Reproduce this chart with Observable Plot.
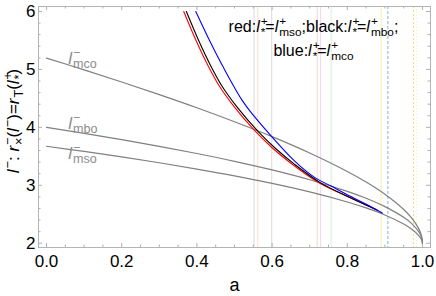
<!DOCTYPE html>
<html><head><meta charset="utf-8">
<script src="https://cdn.jsdelivr.net/npm/d3@7"></script>
<script src="https://cdn.jsdelivr.net/npm/@observablehq/plot@0.6"></script>
<style>body{margin:0;background:#fff;font-family:"Liberation Sans",Arial,sans-serif}</style>
</head><body><div id="chart"></div>
<script>
// gray reference curves l_mco, l_mbo, l_mso versus spin a
const aGrid = [0,0.1,0.2,0.3,0.4,0.5,0.6,0.7,0.8,0.85,0.9,0.95,0.97,0.99,0.995,0.999,1];
const lMco = [5.196,4.993,4.783,4.565,4.338,4.096,3.839,3.556,3.237,3.055,2.845,2.583,2.444,2.252,2.176,2.077,2.0];
const lMbo = [4.0,3.897,3.789,3.673,3.549,3.414,3.265,3.095,2.894,2.775,2.632,2.447,2.346,2.2,2.141,2.063,2.0];
const lMso = [3.674,3.584,3.490,3.389,3.280,3.163,3.033,2.886,2.712,2.609,2.487,2.331,2.248,2.131,2.087,2.033,2.0];
// colored curves
const redA = [0.365,0.398,0.43,0.46,0.50,0.552,0.60,0.65,0.72,0.808,0.862,0.876];
const redL = [6.0,5.495,5.06,4.71,4.35,3.955,3.648,3.38,3.062,2.783,2.624,2.58];
const blackA = [0.372,0.405,0.437,0.467,0.507,0.562,0.61,0.66,0.729,0.81,0.862,0.88];
const blackL = [6.0,5.495,5.06,4.71,4.35,3.935,3.63,3.36,3.042,2.78,2.624,2.57];
const blueA = [0.397,0.434,0.47,0.52,0.55,0.599,0.658,0.71,0.757,0.808,0.862,0.893];
const blueL = [6.0,5.495,5.04,4.47,4.21,3.84,3.43,3.15,2.986,2.81,2.635,2.52];
// faint vertical marker lines
const vA = [0.552,0.562,0.599,0.720,0.729,0.757,0.890];
const vColor = ["#d9d9d9","#fbdccf","#d9d9d9","#fbd2d2","#f3d6ea","#d2f2d2","#f7f1b0"];
const vDashA = [0.908,0.976,0.984];
const vDashColor = ["#8fb0c4","#efe27a","#f5efc8"];
const vDash = ["3,2","2,2","1,2"];
// ticks
const xMajor = [0,0.2,0.4,0.6,0.8,1.0];
const xMinor = d3.range(0,1.0001,0.05).filter(v=>Math.abs(v*5-Math.round(v*5))>1e-6);
const yMajor = [2,3,4,5,6];
const yMinor = d3.range(2,6.0001,0.2).filter(v=>Math.abs(v-Math.round(v))>1e-6);
// labels
const curveLabels = ["{i:l}{^:−}{_:mco}","{i:l}{^:−}{_:mbo}","{i:l}{^:−}{_:mso}"];
const curveLabelY = [5.098,3.972,3.46];
const legendLines = ["red:{i:l}{^:+}{_:*}={i:l}{^:+}{_:mso};black:{i:l}{^:+}{_:*}={i:l}{^:+}{_:mbo};","blue:{i:l}{^:+}{_:*}={i:l}{^:+}{_:mco}"];
const legendY = [5.65,5.236];
const yLabel = "{i:l}{^:−}: {i:r}{^:−}{_:×}({i:l}{^:−})={i:r}{_:T}({i:l}{^:+}{_:*})";

const W=436,H=296,mL=38,mR=6,mT=6,mB=49;
const fw=W-mL-mR, fh=H-mT-mB;

const gray = [
  ...aGrid.map((a,i)=>({a,l:lMco[i],k:"mco"})),
  ...aGrid.map((a,i)=>({a,l:lMbo[i],k:"mbo"})),
  ...aGrid.map((a,i)=>({a,l:lMso[i],k:"mso"}))];
const mk = (A,L)=>A.map((a,i)=>({a,l:L[i]}));

const tickCol="#b0b0b0";
const plot = Plot.plot({
  width:W,height:H,marginLeft:mL,marginRight:mR,marginTop:mT,marginBottom:mB,
  style:{fontFamily:'"Liberation Sans",Arial,sans-serif',fontSize:"17px",background:"#fff"},
  x:{domain:[-0.0213,1.0213]},
  y:{domain:[1.926,6.086]},
  marks:[
    Plot.ruleX(vA.map((a,i)=>({a,c:vColor[i]})),{x:"a",stroke:"c",strokeWidth:1}),
    ...vDashA.map((a,i)=>Plot.ruleX([a],{stroke:vDashColor[i],strokeDasharray:vDash[i],strokeWidth:1})),
    Plot.frame({stroke:"#b4b4b4"}),
    Plot.tickX(xMajor,{x:d=>d,stroke:tickCol,insetTop:fh-4}),
    Plot.tickX(xMajor,{x:d=>d,stroke:tickCol,insetBottom:fh-4}),
    Plot.tickX(xMinor,{x:d=>d,stroke:tickCol,insetTop:fh-2.5}),
    Plot.tickX(xMinor,{x:d=>d,stroke:tickCol,insetBottom:fh-2.5}),
    Plot.tickY(yMajor,{y:d=>d,stroke:tickCol,insetRight:fw-4}),
    Plot.tickY(yMajor,{y:d=>d,stroke:tickCol,insetLeft:fw-4}),
    Plot.tickY(yMinor,{y:d=>d,stroke:tickCol,insetRight:fw-2.5}),
    Plot.tickY(yMinor,{y:d=>d,stroke:tickCol,insetLeft:fw-2.5}),
    Plot.line(gray,{x:"a",y:"l",z:"k",stroke:"#808080",strokeWidth:1.2,curve:"catmull-rom"}),
    Plot.line(mk(redA,redL),{x:"a",y:"l",stroke:"#ff0000",strokeWidth:1.1,curve:"catmull-rom"}),
    Plot.line(mk(blackA,blackL),{x:"a",y:"l",stroke:"#000000",strokeWidth:1.1,curve:"catmull-rom"}),
    Plot.line(mk(blueA,blueL),{x:"a",y:"l",stroke:"#0000ff",strokeWidth:1.1,curve:"catmull-rom"}),
    Plot.text(curveLabels.map((t,i)=>({t,y:curveLabelY[i]})),{x:()=>0.058,y:"y",text:"t",textAnchor:"start",lineAnchor:"bottom",fill:"#8c8c8c",fontSize:17}),
    Plot.text(legendLines.map((t,i)=>({t,y:legendY[i]})),{x:()=>0.71,y:"y",text:"t",textAnchor:"middle",lineAnchor:"bottom",fill:"#000",fontSize:16}),
    Plot.text([yLabel],{frameAnchor:"left",text:d=>d,rotate:-90,dx:-25,dy:-6,textAnchor:"middle",lineAnchor:"middle",fontSize:17,fill:"#000"}),
    Plot.text(["a"],{frameAnchor:"bottom",text:d=>d,dy:43,lineAnchor:"bottom",fontSize:18,fill:"#000"}),
    Plot.axisX({ticks:xMajor,tickSize:0,tickPadding:7,tickFormat:d3.format(".1f"),fontSize:17,label:null,fill:"#000"}),
    Plot.axisY({ticks:yMajor,tickSize:0,tickPadding:3,tickFormat:d3.format("d"),fontSize:17,label:null,fill:"#000"})
  ]
});
document.getElementById("chart").appendChild(plot);

const NS="http://www.w3.org/2000/svg";
function rich(el,str,base){
  el.textContent="";
  const re=/\{([i^_]):([^}]*)\}/g; let last=0,m; const parts=[];
  while((m=re.exec(str))){ if(m.index>last) parts.push(["n",str.slice(last,m.index)]); parts.push([m[1],m[2]]); last=re.lastIndex; }
  if(last<str.length) parts.push(["n",str.slice(last)]);
  let cur=0, prevSup=null, prevT=null;
  for(const [t,s] of parts){
    const ts=document.createElementNS(NS,"tspan");
    ts.textContent=s;
    const target = t==="^" ? -0.42*base : t==="_" ? 0.25*base : 0;
    ts.setAttribute("dy", target-cur); cur=target;
    if(t==="^"||t==="_") ts.setAttribute("font-size", 0.74*base);
    if(t==="i") ts.setAttribute("font-style","italic");
    if(t==="_" && prevSup) ts.setAttribute("dx", -prevSup.getComputedTextLength());
    else if((t==="^"||t==="_") && prevT==="i") ts.setAttribute("dx", 1);
    el.appendChild(ts);
    prevSup = t==="^" ? ts : null;
    prevT = t;
  }
}
plot.querySelectorAll('g[aria-label="text"] text').forEach(el=>{
  const s=el.textContent;
  if(s.indexOf("{")<0) return;
  const fs=parseFloat(getComputedStyle(el).fontSize)||17;
  rich(el,s,fs);
});
</script></body></html>
